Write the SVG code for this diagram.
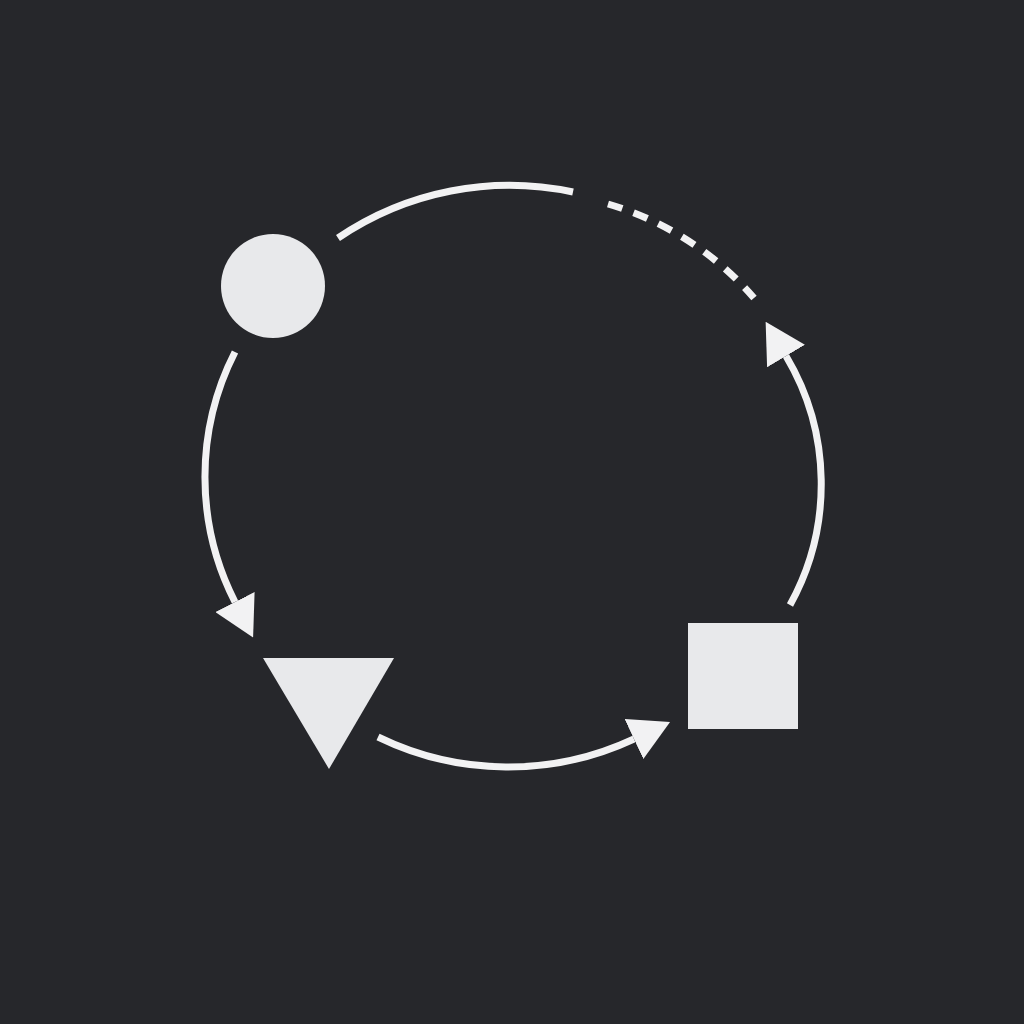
<svg xmlns="http://www.w3.org/2000/svg" width="1024" height="1024" viewBox="0 0 1024 1024">
<style>
.shape{fill:#e8e9eb}
.conn{fill:none;stroke:#f2f2f3;stroke-width:7}
.dot{stroke-dasharray:15 12}
</style>
<defs>
<marker id="ah" markerUnits="userSpaceOnUse" markerWidth="40" markerHeight="44" viewBox="0 0 38 42" refX="0" refY="21" orient="auto">
<path d="M0,0 L38,21 L0,42 z" fill="#f2f2f3"/>
</marker>
</defs>
<rect width="1024" height="1024" fill="#26272b"/>
<g id="connectors">
<path class="conn" d="M338,238 A305,305 0 0 1 573,192"/>
<path class="conn dot" d="M608,204 A305,305 0 0 1 754,298"/>
<path class="conn" d="M235,352 A275,275 0 0 0 235,602" marker-end="url(#ah)"/>
<path class="conn" d="M378,737 A297,297 0 0 0 634,739" marker-end="url(#ah)"/>
<path class="conn" d="M790,605 A250,250 0 0 0 786,356" marker-end="url(#ah)"/>
</g>
<g id="circle"><circle class="shape" cx="273" cy="286" r="52"/></g>
<g id="triangle"><polygon class="shape" points="263,658 394,658 329,769"/></g>
<g id="square"><rect class="shape" x="688" y="623" width="110" height="106"/></g>
</svg>
